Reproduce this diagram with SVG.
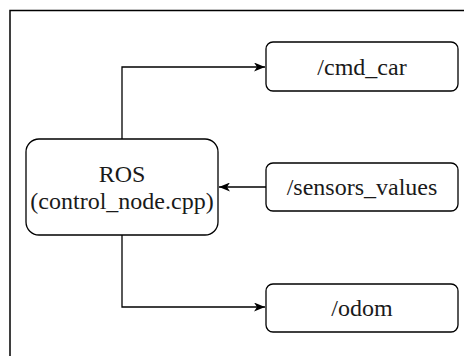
<svg xmlns="http://www.w3.org/2000/svg" width="464" height="356" viewBox="0 0 464 356">
<style>
.node{fill:#ffffff;stroke:#000000;stroke-width:1.3}
.lbl{font-size:24px;fill:#1a1a1a;text-anchor:middle}
.edge{fill:none;stroke:#000000;stroke-width:1.3}
</style>
<defs>
<marker id="arr" viewBox="0 0 11 9" refX="11" refY="4.5" markerWidth="11" markerHeight="9" markerUnits="userSpaceOnUse" orient="auto">
<path d="M0,0 L11,4.5 L0,9 L3,4.5 Z" fill="#000000"/>
</marker>
</defs>
<rect width="464" height="356" fill="#ffffff"/>
<path d="M10,370 V10.5 H480" fill="none" stroke="#000000" stroke-width="1.5"/>
<g id="edges">
<path class="edge" d="M122,139 V67 H265" marker-end="url(#arr)"/>
<path class="edge" d="M122,235 V307 H265" marker-end="url(#arr)"/>
<path class="edge" d="M266,187 H219" marker-end="url(#arr)"/>
</g>
<g font-family="Liberation Serif">
<g id="ros">
<rect class="node" x="26" y="139" width="192" height="96" rx="13"/>
<text class="lbl" x="122" y="182">ROS</text>
<text class="lbl" x="122" y="209">(control_node.cpp)</text>
</g>
<g id="cmd_car">
<rect class="node" x="266" y="42" width="192" height="49" rx="7"/>
<text class="lbl" x="362" y="75">/cmd_car</text>
</g>
<g id="sensors_values">
<rect class="node" x="266" y="163" width="192" height="48" rx="7"/>
<text class="lbl" x="362" y="195">/sensors_values</text>
</g>
<g id="odom">
<rect class="node" x="266" y="284" width="192" height="48" rx="7"/>
<text class="lbl" x="362" y="316">/odom</text>
</g>
</g>
</svg>
